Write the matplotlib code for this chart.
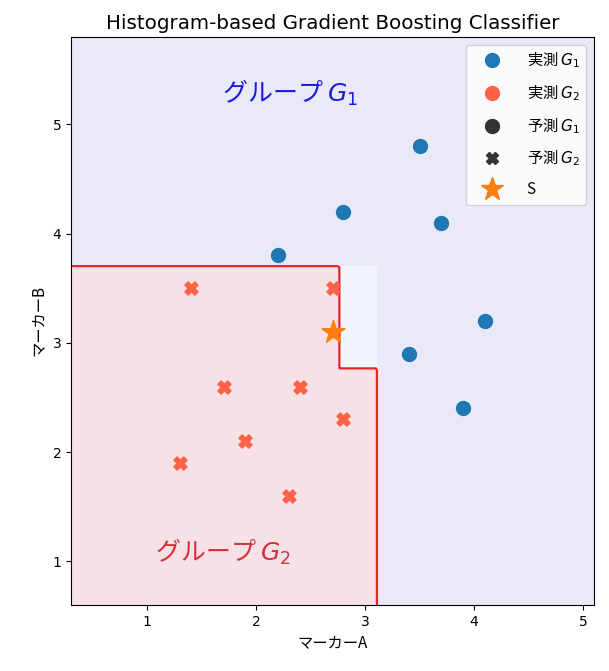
import numpy as np
import matplotlib
matplotlib.use("Agg")
import matplotlib.pyplot as plt
from matplotlib.colors import ListedColormap
from matplotlib.lines import Line2D

plt.rcParams['font.family'] = ['DejaVu Sans', 'Noto Sans CJK JP']
JP = ['Noto Sans CJK JP', 'DejaVu Sans']

# data
g1_x = [2.2, 2.8, 3.5, 3.7, 4.1, 3.4, 3.9]
g1_y = [3.8, 4.2, 4.8, 4.1, 3.2, 2.9, 2.4]
g2_x = [1.4, 2.7, 1.7, 2.4, 1.9, 2.8, 1.3, 2.3]
g2_y = [3.5, 3.5, 2.6, 2.6, 2.1, 2.3, 1.9, 1.6]
s_x, s_y = [2.7], [3.1]

# split thresholds of the fitted model
split_x = [2.75, 3.1]
split_y = [2.75, 3.7]
prob_levels = [0.9, 0.45, 0.1]  # G2 prob: inside, middle, outside

legend_labels = ['実測 $G_1$', '実測 $G_2$', '予測 $G_1$', '予測 $G_2$', 'S']

xlim = (min(g1_x + g2_x) - 1, max(g1_x + g2_x) + 1)
ylim = (min(g1_y + g2_y) - 1, max(g1_y + g2_y) + 1)

fig = plt.figure(figsize=(6.09, 6.71), dpi=100)
ax = fig.add_axes([0.1166, 0.0984, 0.8588, 0.8465])

xx, yy = np.meshgrid(np.linspace(xlim[0], xlim[1], 260),
                     np.linspace(ylim[0], ylim[1], 260))
p = np.full(xx.shape, prob_levels[2])
p[(xx < split_x[0]) & (yy < split_y[1])] = prob_levels[0]
p[(xx >= split_x[0]) & (xx < split_x[1]) & (yy < split_y[0])] = prob_levels[0]
p[(xx >= split_x[0]) & (xx < split_x[1]) & (yy >= split_y[0]) & (yy < split_y[1])] = prob_levels[1]

cmap = ListedColormap(['#e9e9f8', '#f3f5fc', '#f6e2e6'])
ax.contourf(xx, yy, p, levels=[0, 0.3, 0.5, 1], cmap=cmap)
ax.contour(xx, yy, p, levels=[0.5], colors=['#e8232a'], linewidths=1.6)

ax.scatter(g1_x, g1_y, s=100, color='#1f77b4', marker='o', zorder=3)
ax.scatter(g2_x, g2_y, s=90, color='#ff6347', marker='X', zorder=3)
ax.scatter(s_x, s_y, s=300, color='#ff7f0e', marker='*', zorder=4)

ax.text(2.31, 5.29, 'グループ $G_1$', color='#1a1ae0', fontsize=18,
        ha='center', va='center', family=JP)
ax.text(1.70, 1.09, 'グループ $G_2$', color='#d62f3a', fontsize=18,
        ha='center', va='center', family=JP)

ax.set_xlim(xlim)
ax.set_ylim(ylim)
ax.set_xticks([1, 2, 3, 4, 5])
ax.set_yticks([1, 2, 3, 4, 5])
ax.set_xlabel('マーカーA', fontsize=11, family=JP)
ax.set_ylabel('マーカーB', fontsize=11, family=JP)
ax.set_title('Histogram-based Gradient Boosting Classifier', fontsize=14.3)

handles = [
    Line2D([], [], ls='', marker='o', color='#1f77b4', markersize=10),
    Line2D([], [], ls='', marker='o', color='#ff6347', markersize=10),
    Line2D([], [], ls='', marker='o', color='#333333', markersize=10),
    Line2D([], [], ls='', marker='X', color='#333333', markersize=9),
    Line2D([], [], ls='', marker='*', color='#ff7f0e', markersize=17),
]
ax.legend(handles, legend_labels, loc='upper right',
          prop={'family': JP, 'size': 11},
          labelspacing=0.85, handlelength=2.6, handletextpad=1.0)

fig.savefig('out.png', dpi=100)
